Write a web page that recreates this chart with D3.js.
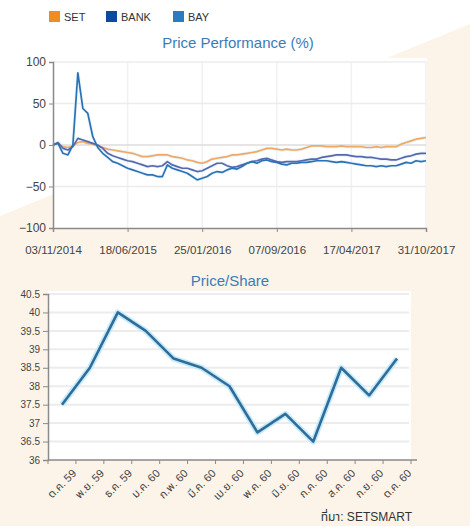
<!DOCTYPE html>
<html>
<head>
<meta charset="utf-8">
<script src="https://cdn.jsdelivr.net/npm/d3@7"></script>
<style>
  body { margin: 0; background: #fcf4e9; }
  svg { display: block; font-family: "Liberation Sans", "Noto Sans Thai", "Noto Sans", sans-serif; }
  .axis path, .axis line { stroke: #8a8a8a; }
  .axis text { fill: #444; }
</style>
</head>
<body>
<svg width="470" height="526"></svg>
<script>
// ---- top chart data: % change since 03/11/2014, sampled evenly ----
var perfDates = ["03/11/2014", "18/06/2015", "25/01/2016", "07/09/2016", "17/04/2017", "31/10/2017"];
var setPerf = [0, 2, -2, -3, -1, 3, 4, 2, 1, -1, -3, -5, -6, -7, -8, -9, -10, -12, -14, -14,
  -13, -12, -12, -12, -14, -15, -16, -18, -19, -21, -22, -20, -17, -16, -15, -14, -12, -12, -11, -10,
  -9, -8, -6, -4, -4, -5, -6, -5, -6, -6, -5, -3, -1, -1, -1, -2, -2, -2, -1, -2,
  -2, -2, -2, -3, -3, -2, -3, -2, -2, -2, 1, 3, 5, 7, 8, 9];
var bankPerf = [0, 3, -4, -6, -2, 8, 6, 4, 2, 0, -4, -10, -13, -15, -17, -19, -20, -22, -24, -26,
  -25, -26, -25, -20, -24, -26, -28, -28, -30, -32, -31, -28, -25, -22, -22, -25, -27, -26, -24, -22,
  -20, -19, -17, -16, -18, -20, -21, -20, -20, -20, -19, -18, -17, -17, -15, -14, -13, -12, -12, -12,
  -13, -14, -14, -15, -15, -16, -17, -17, -18, -18, -16, -14, -13, -11, -10, -10];
var bayPerf = [0, 2, -10, -12, 0, 87, 44, 38, 10, -3, -10, -15, -20, -22, -25, -28, -30, -32, -34, -36,
  -36, -38, -38, -24, -28, -30, -32, -34, -38, -42, -40, -38, -34, -32, -33, -30, -28, -29, -26, -22,
  -20, -22, -19, -18, -20, -21, -23, -24, -22, -22, -21, -21, -20, -19, -19, -19, -20, -21, -20, -21,
  -22, -23, -24, -25, -25, -26, -25, -26, -25, -25, -23, -21, -22, -19, -20, -19];
var perfTicks = [-100, -50, 0, 50, 100];

// ---- bottom chart data: BAY price per share ----
var months = ["ต.ค. 59", "พ.ย. 59", "ธ.ค. 59", "ม.ค. 60", "ก.พ. 60", "มี.ค. 60", "เม.ย. 60",
  "พ.ค. 60", "มิ.ย. 60", "ก.ค. 60", "ส.ค. 60", "ก.ย. 60", "ต.ค. 60"];
var prices = [37.5, 38.5, 40, 39.5, 38.75, 38.5, 38, 36.75, 37.25, 36.5, 38.5, 37.75, 38.75];
var priceTicks = [36, 36.5, 37, 37.5, 38, 38.5, 39, 39.5, 40, 40.5];

var legendItems = [
  {name: "SET", color: "#ef8c22", line: "#f2a860", values: setPerf},
  {name: "BANK", color: "#0b4a9e", line: "#5568ae", values: bankPerf},
  {name: "BAY", color: "#2a7bc2", line: "#2a72b5", values: bayPerf}
];

var svg = d3.select("svg");

// white corner of the background
svg.append("polygon")
    .attr("points", "0,0 470,0 470,24 0,216")
    .attr("fill", "#ffffff");

// ---------- legend ----------
var legend = svg.append("g").attr("transform", "translate(49,11)");
var legendX = [0, 57, 124];
legendItems.forEach(function(d, i) {
  var g = legend.append("g").attr("transform", "translate(" + legendX[i] + ",0)");
  g.append("rect").attr("width", 11).attr("height", 11).attr("fill", d.color);
  g.append("text").attr("x", 15).attr("y", 10).attr("font-size", 11).attr("fill", "#333").text(d.name);
});

svg.append("text")
    .attr("x", 238).attr("y", 48)
    .attr("text-anchor", "middle")
    .attr("font-size", 15).attr("fill", "#3b7cb8")
    .text("Price Performance (%)");

// ---------- top chart ----------
var x = d3.scaleLinear().domain([0, setPerf.length - 1]).range([53, 426]);
var y = d3.scaleLinear().domain([-100, 100]).range([228, 62]);

svg.append("rect")
    .attr("x", x.range()[0]).attr("y", 58)
    .attr("width", x.range()[1] - x.range()[0] + 1).attr("height", 228 - 58)
    .attr("fill", "#fff");

var tickIdx = perfDates.map(function(d, i) { return i * (setPerf.length - 1) / (perfDates.length - 1); });

svg.append("g").selectAll("line").data(tickIdx.slice(1)).enter().append("line")
    .attr("x1", x).attr("x2", x).attr("y1", 62).attr("y2", 228)
    .attr("stroke", "#f0f1f4").attr("stroke-width", 1.5);

svg.append("g").selectAll("line").data(perfTicks.slice(1)).enter().append("line")
    .attr("x1", 53).attr("x2", 426)
    .attr("y1", y).attr("y2", y)
    .attr("stroke", function(d) { return d === 0 ? "#dcdcdc" : "#ececec"; })
    .attr("stroke-width", 1.5);

var line = d3.line()
    .x(function(d, i) { return x(i); })
    .y(function(d) { return y(d); });

legendItems.forEach(function(d) {
  svg.append("path").datum(d.values)
      .attr("fill", "none").attr("stroke", "#d8ecf8").attr("stroke-width", 3.5)
      .attr("stroke-opacity", 0.5).attr("d", line);
});
legendItems.forEach(function(d) {
  svg.append("path").datum(d.values)
      .attr("fill", "none").attr("stroke", d.line).attr("stroke-width", 1.7)
      .attr("stroke-linejoin", "round").attr("d", line);
});

svg.append("g").attr("class", "axis")
    .attr("transform", "translate(53,0)")
    .call(d3.axisLeft(y).tickValues(perfTicks).tickSize(4).tickPadding(3))
    .call(function(g) { g.selectAll("text").attr("font-size", 12); })
    .select(".domain").attr("stroke-width", 1.5);

svg.append("g").attr("class", "axis")
    .attr("transform", "translate(0,228)")
    .call(d3.axisBottom(x).tickValues(tickIdx).tickSize(4).tickPadding(14)
      .tickFormat(function(d, i) { return perfDates[i]; }))
    .call(function(g) { g.selectAll("text").attr("font-size", 11.5).attr("fill", "#333"); })
    .select(".domain").attr("stroke-width", 1.5);

// ---------- bottom chart ----------
svg.append("text")
    .attr("x", 230).attr("y", 286)
    .attr("text-anchor", "middle")
    .attr("font-size", 15).attr("fill", "#3b7cb8")
    .text("Price/Share");

var xb = d3.scaleBand().domain(months).range([48, 411]);
var yb = d3.scaleLinear().domain([36, 40.5]).range([460, 294]);

svg.append("rect")
    .attr("x", 48).attr("y", 291)
    .attr("width", 411 - 48).attr("height", 460 - 291)
    .attr("fill", "#fff");

svg.append("g").selectAll("line").data(priceTicks.slice(1)).enter().append("line")
    .attr("x1", 48).attr("x2", 409)
    .attr("y1", yb).attr("y2", yb)
    .attr("stroke", "#ececec").attr("stroke-width", 2);

var priceLine = d3.line()
    .x(function(d, i) { return xb(months[i]) + xb.bandwidth() / 2; })
    .y(function(d) { return yb(d); });

svg.append("path").datum(prices)
    .attr("fill", "none").attr("stroke", "#c6ebf8").attr("stroke-width", 6)
    .attr("stroke-linejoin", "round").attr("d", priceLine);
svg.append("path").datum(prices)
    .attr("fill", "none").attr("stroke", "#2f6c9a").attr("stroke-width", 2.6)
    .attr("stroke-linejoin", "round").attr("d", priceLine);

svg.append("g").attr("class", "axis")
    .attr("transform", "translate(48,0)")
    .call(d3.axisLeft(yb).tickValues(priceTicks).tickSize(5).tickPadding(3)
      .tickFormat(function(d) { return String(d); }))
    .call(function(g) { g.selectAll("text").attr("font-size", 10); })
    .select(".domain").attr("stroke-width", 1.5);

// category axis: ticks at band edges, labels rotated
var xAxisB = svg.append("g").attr("class", "axis").attr("transform", "translate(0,460)");
xAxisB.append("line")
    .attr("x1", 48).attr("x2", 417).attr("stroke-width", 1.5);
xAxisB.selectAll(".edge").data(months.concat([null])).enter().append("line")
    .attr("class", "edge")
    .attr("x1", function(d, i) { return 48 + i * xb.step(); })
    .attr("x2", function(d, i) { return 48 + i * xb.step(); })
    .attr("y1", 0).attr("y2", 4);
xAxisB.selectAll("text").data(months).enter().append("text")
    .attr("transform", function(d) {
      return "translate(" + (xb(d) + xb.bandwidth() / 2 + 15) + ",14) rotate(-45)";
    })
    .attr("text-anchor", "end")
    .attr("font-size", 11)
    .attr("fill", "#444")
    .text(function(d) { return d; });

svg.append("text")
    .attr("x", 412).attr("y", 521)
    .attr("text-anchor", "end")
    .attr("font-size", 12).attr("fill", "#333")
    .text("ที่มา: SETSMART");
</script>
</body>
</html>
